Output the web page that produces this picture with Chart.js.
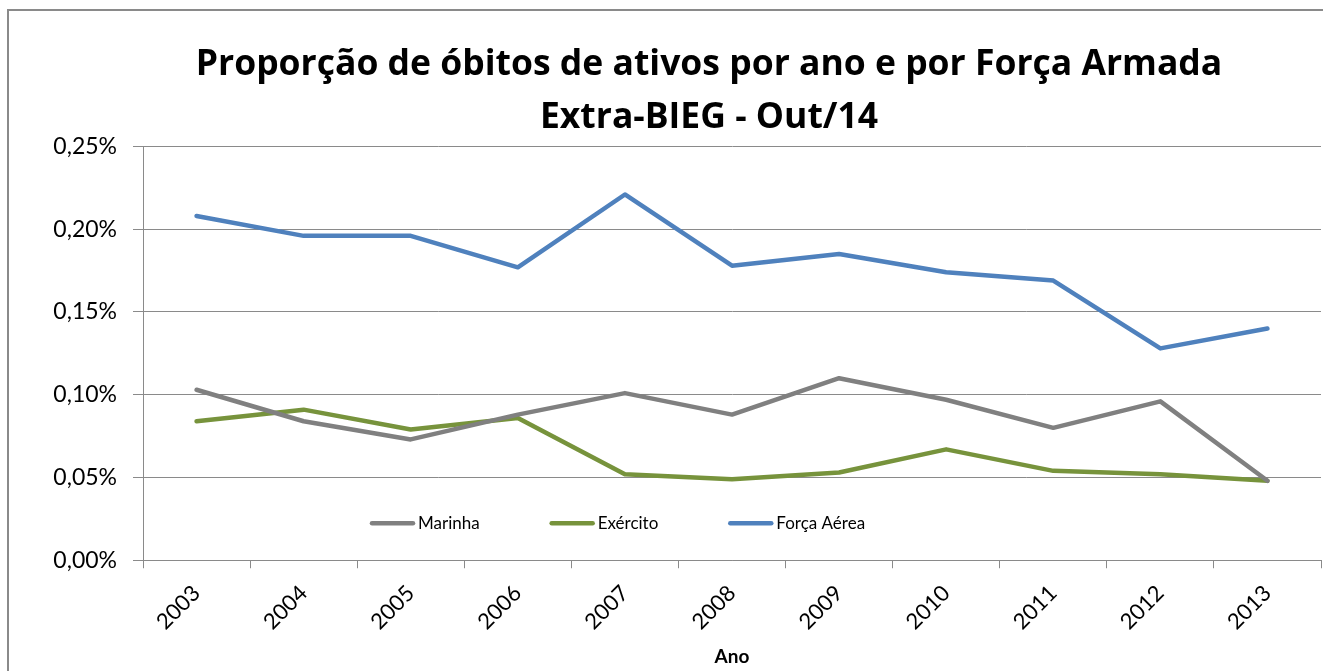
<!DOCTYPE html>
<html>
<head>
<meta charset="utf-8">
<script src="https://cdn.jsdelivr.net/npm/chart.js@4/dist/chart.umd.min.js"></script>
<style>
  html, body { margin: 0; padding: 0; background: #fff; overflow: hidden; }
  #wrap { position: relative; width: 1323px; height: 671px; }
  #frame { position: absolute; left: 7px; top: 9px; width: 1400px; height: 800px;
           border-left: 2px solid #8a8a8a; border-top: 2px solid #8a8a8a; pointer-events: none; }
</style>
</head>
<body>
<div id="wrap">
  <canvas id="grafico" width="1323" height="671"></canvas>
  <div id="frame"></div>
</div>
<script>
const anos = ['2003', '2004', '2005', '2006', '2007', '2008', '2009', '2010', '2011', '2012', '2013'];
const marinha = [0.103, 0.084, 0.073, 0.088, 0.101, 0.088, 0.110, 0.097, 0.080, 0.096, 0.048];
const exercito = [0.084, 0.091, 0.079, 0.086, 0.052, 0.049, 0.053, 0.067, 0.054, 0.052, 0.048];
const forcaAerea = [0.208, 0.196, 0.196, 0.177, 0.221, 0.178, 0.185, 0.174, 0.169, 0.128, 0.140];
const yTicks = [0, 0.05, 0.10, 0.15, 0.20, 0.25];

const fonte = 'Lato, "Open Sans", sans-serif';

// legenda desenhada dentro da área do gráfico, como no Excel
const legendaInterna = {
    id: 'legendaInterna',
    afterLayout(chart) {
        // o título do original fica um pouco à esquerda do centro da área
        chart.titleBlock.left -= 46;
    },
    afterDraw(chart) {
        const ctx = chart.ctx;
        const area = chart.chartArea;
        const y = area.bottom - 37;
        let x = area.left + 229;
        ctx.save();
        ctx.font = '17px ' + fonte;
        ctx.textBaseline = 'middle';
        chart.data.datasets.forEach(ds => {
            ctx.strokeStyle = ds.borderColor;
            ctx.lineWidth = 4.5;
            ctx.lineCap = 'round';
            ctx.beginPath();
            ctx.moveTo(x, y);
            ctx.lineTo(x + 41, y);
            ctx.stroke();
            ctx.fillStyle = '#000';
            ctx.fillText(ds.label, x + 46, y);
            x += 46 + ctx.measureText(ds.label).width + 72;
        });
        ctx.restore();
    }
};

const ctx = document.getElementById('grafico').getContext('2d');
const grafico = new Chart(ctx, {
    type: 'line',
    data: {
        labels: anos,
        datasets: [
            { label: 'Marinha', data: marinha, borderColor: '#808080' },
            { label: 'Exército', data: exercito, borderColor: '#77933c' },
            { label: 'Força Aérea', data: forcaAerea, borderColor: '#4f81bd' }
        ]
    },
    options: {
        responsive: false,
        animation: false,
        layout: { padding: { left: 0, right: 2, top: 0, bottom: 5 } },
        elements: {
            line: { borderWidth: 4.5, tension: 0, borderCapStyle: 'round', borderJoinStyle: 'round' },
            point: { radius: 0 }
        },
        plugins: {
            legend: { display: false },
            tooltip: { enabled: false },
            title: {
                display: true,
                fullSize: false,
                text: ['Proporção de óbitos de ativos por ano e por Força Armada', 'Extra-BIEG - Out/14'],
                color: '#000',
                font: { family: '"Open Sans", Lato, sans-serif', size: 35.5, weight: 'bold', lineHeight: 1.5 },
                padding: { top: 38, bottom: 2 }
            }
        },
        scales: {
            x: {
                offset: true,
                grid: { offset: true, drawOnChartArea: false, color: '#8a8a8a', tickLength: 8 },
                border: { color: '#8a8a8a' },
                ticks: {
                    color: '#000', minRotation: 45, maxRotation: 45, padding: 12,
                    font: { family: fonte, size: 22 }
                },
                title: {
                    display: true, text: 'Ano', color: '#000',
                    font: { family: fonte, size: 19, weight: 'bold', lineHeight: 1.0 }, padding: { top: 0, bottom: 0 }
                }
            },
            y: {
                min: 0,
                max: 0.25,
                afterBuildTicks(scale) { scale.ticks = yTicks.map(v => ({ value: v })); },
                afterFit(scale) { scale.width = 143; },
                grid: { color: '#8a8a8a', tickLength: 10 },
                border: { color: '#8a8a8a' },
                ticks: {
                    color: '#000', padding: 16,
                    font: { family: fonte, size: 23 },
                    callback: v => v.toFixed(2).replace('.', ',') + '%'
                }
            }
        }
    },
    plugins: [legendaInterna]
});
</script>
</body>
</html>
